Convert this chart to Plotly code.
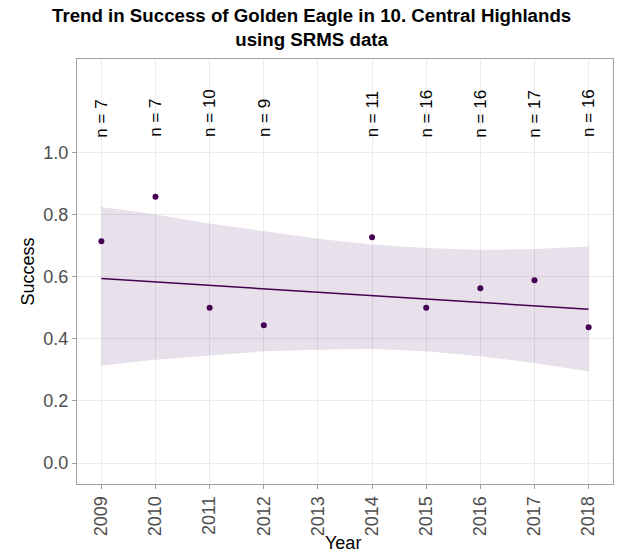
import plotly.graph_objects as go

years = [2009, 2010, 2011, 2012, 2014, 2015, 2016, 2017, 2018]
success = [0.714, 0.857, 0.500, 0.444, 0.727, 0.500, 0.5625, 0.588, 0.4375]
n_counts = [7, 7, 10, 9, 11, 16, 16, 17, 16]

band_years = [2009, 2010, 2011, 2012, 2013, 2014, 2015, 2016, 2017, 2018]
band_upper = [0.824, 0.800, 0.771, 0.746, 0.722, 0.703, 0.692, 0.686, 0.689, 0.697]
band_lower = [0.313, 0.333, 0.346, 0.360, 0.365, 0.367, 0.360, 0.344, 0.322, 0.295]

fit_years = [2009, 2018]
fit_values = [0.594, 0.495]

tick_years = list(range(2009, 2019))
y_ticks = [0.0, 0.2, 0.4, 0.6, 0.8, 1.0]

label_y = 1.045
purple = "#440154"
FONT = "Liberation Sans"

# panel geometry (px)
L, R, T, B = 77, 10, 59, 71
W, H = 623, 555
pw, ph = W - L - R, H - T - B

fig = go.Figure()
fig.add_trace(go.Scatter(x=band_years, y=band_lower, mode="lines",
                         line=dict(width=0), hoverinfo="skip", showlegend=False))
fig.add_trace(go.Scatter(x=band_years, y=band_upper, mode="lines",
                         line=dict(width=0), fill="tonexty",
                         fillcolor="rgba(68,1,84,0.12)", hoverinfo="skip", showlegend=False))
fig.add_trace(go.Scatter(x=fit_years, y=fit_values, mode="lines",
                         line=dict(color=purple, width=1.5), showlegend=False))
fig.add_trace(go.Scatter(x=years, y=success, mode="markers",
                         marker=dict(color=purple, size=6), showlegend=False))

for yr, n in zip(years, n_counts):
    fig.add_annotation(x=yr, y=label_y, text=f"n = {n}", textangle=-90,
                       showarrow=False, xanchor="center", yanchor="bottom", borderpad=0,
                       font=dict(size=17, color="black", family=FONT))

# title
fig.add_annotation(xref="paper", yref="paper",
                   x=(W / 2 - L) / pw, y=1 + (T - 3) / ph,
                   xanchor="center", yanchor="top", showarrow=False, align="center",
                   text="<b>Trend in Success of Golden Eagle in 10. Central Highlands<br>using SRMS data</b>",
                   font=dict(size=18.7, color="black", family=FONT))
# axis titles
fig.add_annotation(xref="paper", yref="paper", x=-(L - 27) / pw, y=0.5,
                   xanchor="center", yanchor="middle", textangle=-90, showarrow=False,
                   text="Success", font=dict(size=18, color="black", family=FONT))
fig.add_annotation(xref="paper", yref="paper", x=(343 - L) / pw, y=-(543 - (H - B)) / ph,
                   xanchor="center", yanchor="middle", showarrow=False,
                   text="Year", font=dict(size=18, color="black", family=FONT))

fig.update_layout(
    width=W, height=H,
    paper_bgcolor="white", plot_bgcolor="white",
    margin=dict(l=L, r=R, t=T, b=B, autoexpand=False),
    font=dict(family=FONT, size=18, color="#4D4D4D"),
)
fig.update_xaxes(range=[2008.55, 2018.45], tickmode="array",
                 tickvals=tick_years, ticktext=[str(v) for v in tick_years],
                 tickangle=-90, showgrid=True, gridcolor="#EBEBEB", gridwidth=1,
                 zeroline=False, showline=True, mirror=True, linecolor="#A0A0A0", linewidth=1,
                 ticks="outside", ticklen=4, tickcolor="#A0A0A0", automargin=False,
                 tickfont=dict(size=18, color="#4D4D4D", family=FONT))
fig.update_yaxes(range=[-0.067, 1.30], tickmode="array",
                 tickvals=y_ticks, ticktext=[f"{v:.1f}" for v in y_ticks],
                 showgrid=True, gridcolor="#EBEBEB", gridwidth=1,
                 zeroline=False, showline=True, mirror=True, linecolor="#A0A0A0", linewidth=1,
                 ticks="outside", ticklen=4, tickcolor="#A0A0A0", automargin=False,
                 tickfont=dict(size=18, color="#4D4D4D", family=FONT))

fig.write_html("out.html", config={"displayModeBar": False},
               post_script="document.body.style.margin='0';document.body.style.overflow='hidden';")
